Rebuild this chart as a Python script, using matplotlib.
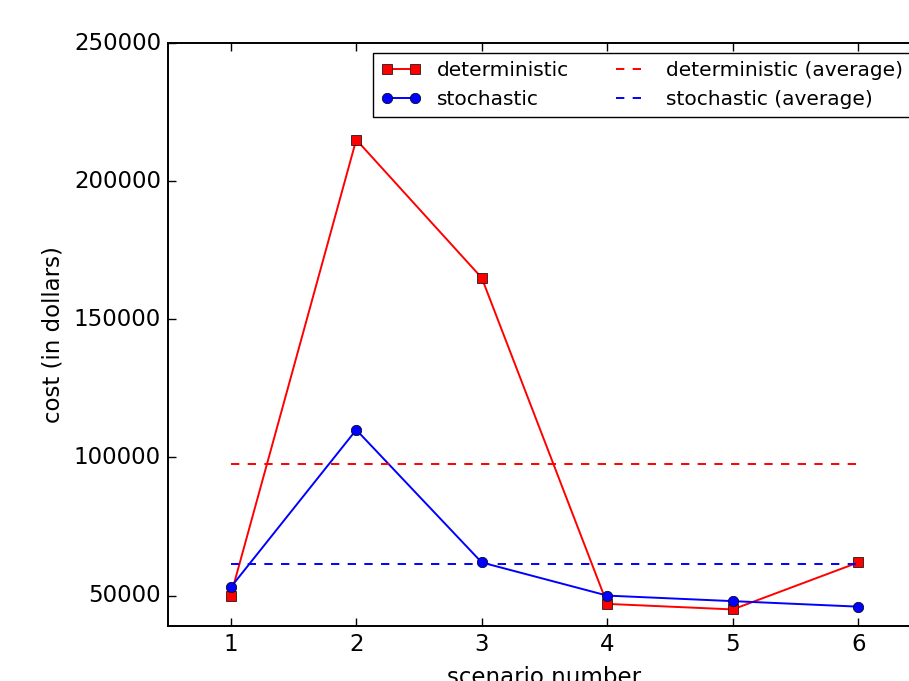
import matplotlib
matplotlib.use("Agg")
import matplotlib.pyplot as plt

# data
scenarios = [1, 2, 3, 4, 5, 6]
deterministic = [50000, 215000, 165000, 47000, 45000, 62000]
stochastic = [53000, 110000, 62000, 50000, 48000, 46000]
det_average = 97500
sto_average = 61500

plt.style.use('classic')
plt.rcParams['font.family'] = ['DejaVu Sans']
plt.rcParams['axes.linewidth'] = 1.4
plt.rcParams['lines.linewidth'] = 1.4

fig = plt.figure(figsize=(9.09, 6.81), dpi=100, facecolor='white')
# axes runs past the right edge of the picture, as in the original
ax = fig.add_axes([168/909, 55/681, 753/909, 583/681])

ax.plot(scenarios, deterministic, 'rs-', markersize=7.5, label='deterministic')
ax.plot(scenarios, stochastic, 'bo-', markersize=7.5, label='stochastic')
ax.plot([scenarios[0], scenarios[-1]], [det_average, det_average], 'r--', label='deterministic (average)')
ax.plot([scenarios[0], scenarios[-1]], [sto_average, sto_average], 'b--', label='stochastic (average)')

ax.set_xlim(0.5, 6.5)
ax.set_ylim(39000, 250000)
ax.set_xticks(scenarios)
ax.set_yticks([50000, 100000, 150000, 200000, 250000])
ax.tick_params(labelsize=16.5, length=5.6, width=1.0, pad=5)

ax.set_xlabel('scenario number', fontsize=16.5, labelpad=7)
ax.set_ylabel('cost (in dollars)', fontsize=16.5, labelpad=7)

ax.legend(loc='upper right', ncol=2, fontsize=14.5, numpoints=2)

fig.savefig('out.png', dpi=100, facecolor='white')
